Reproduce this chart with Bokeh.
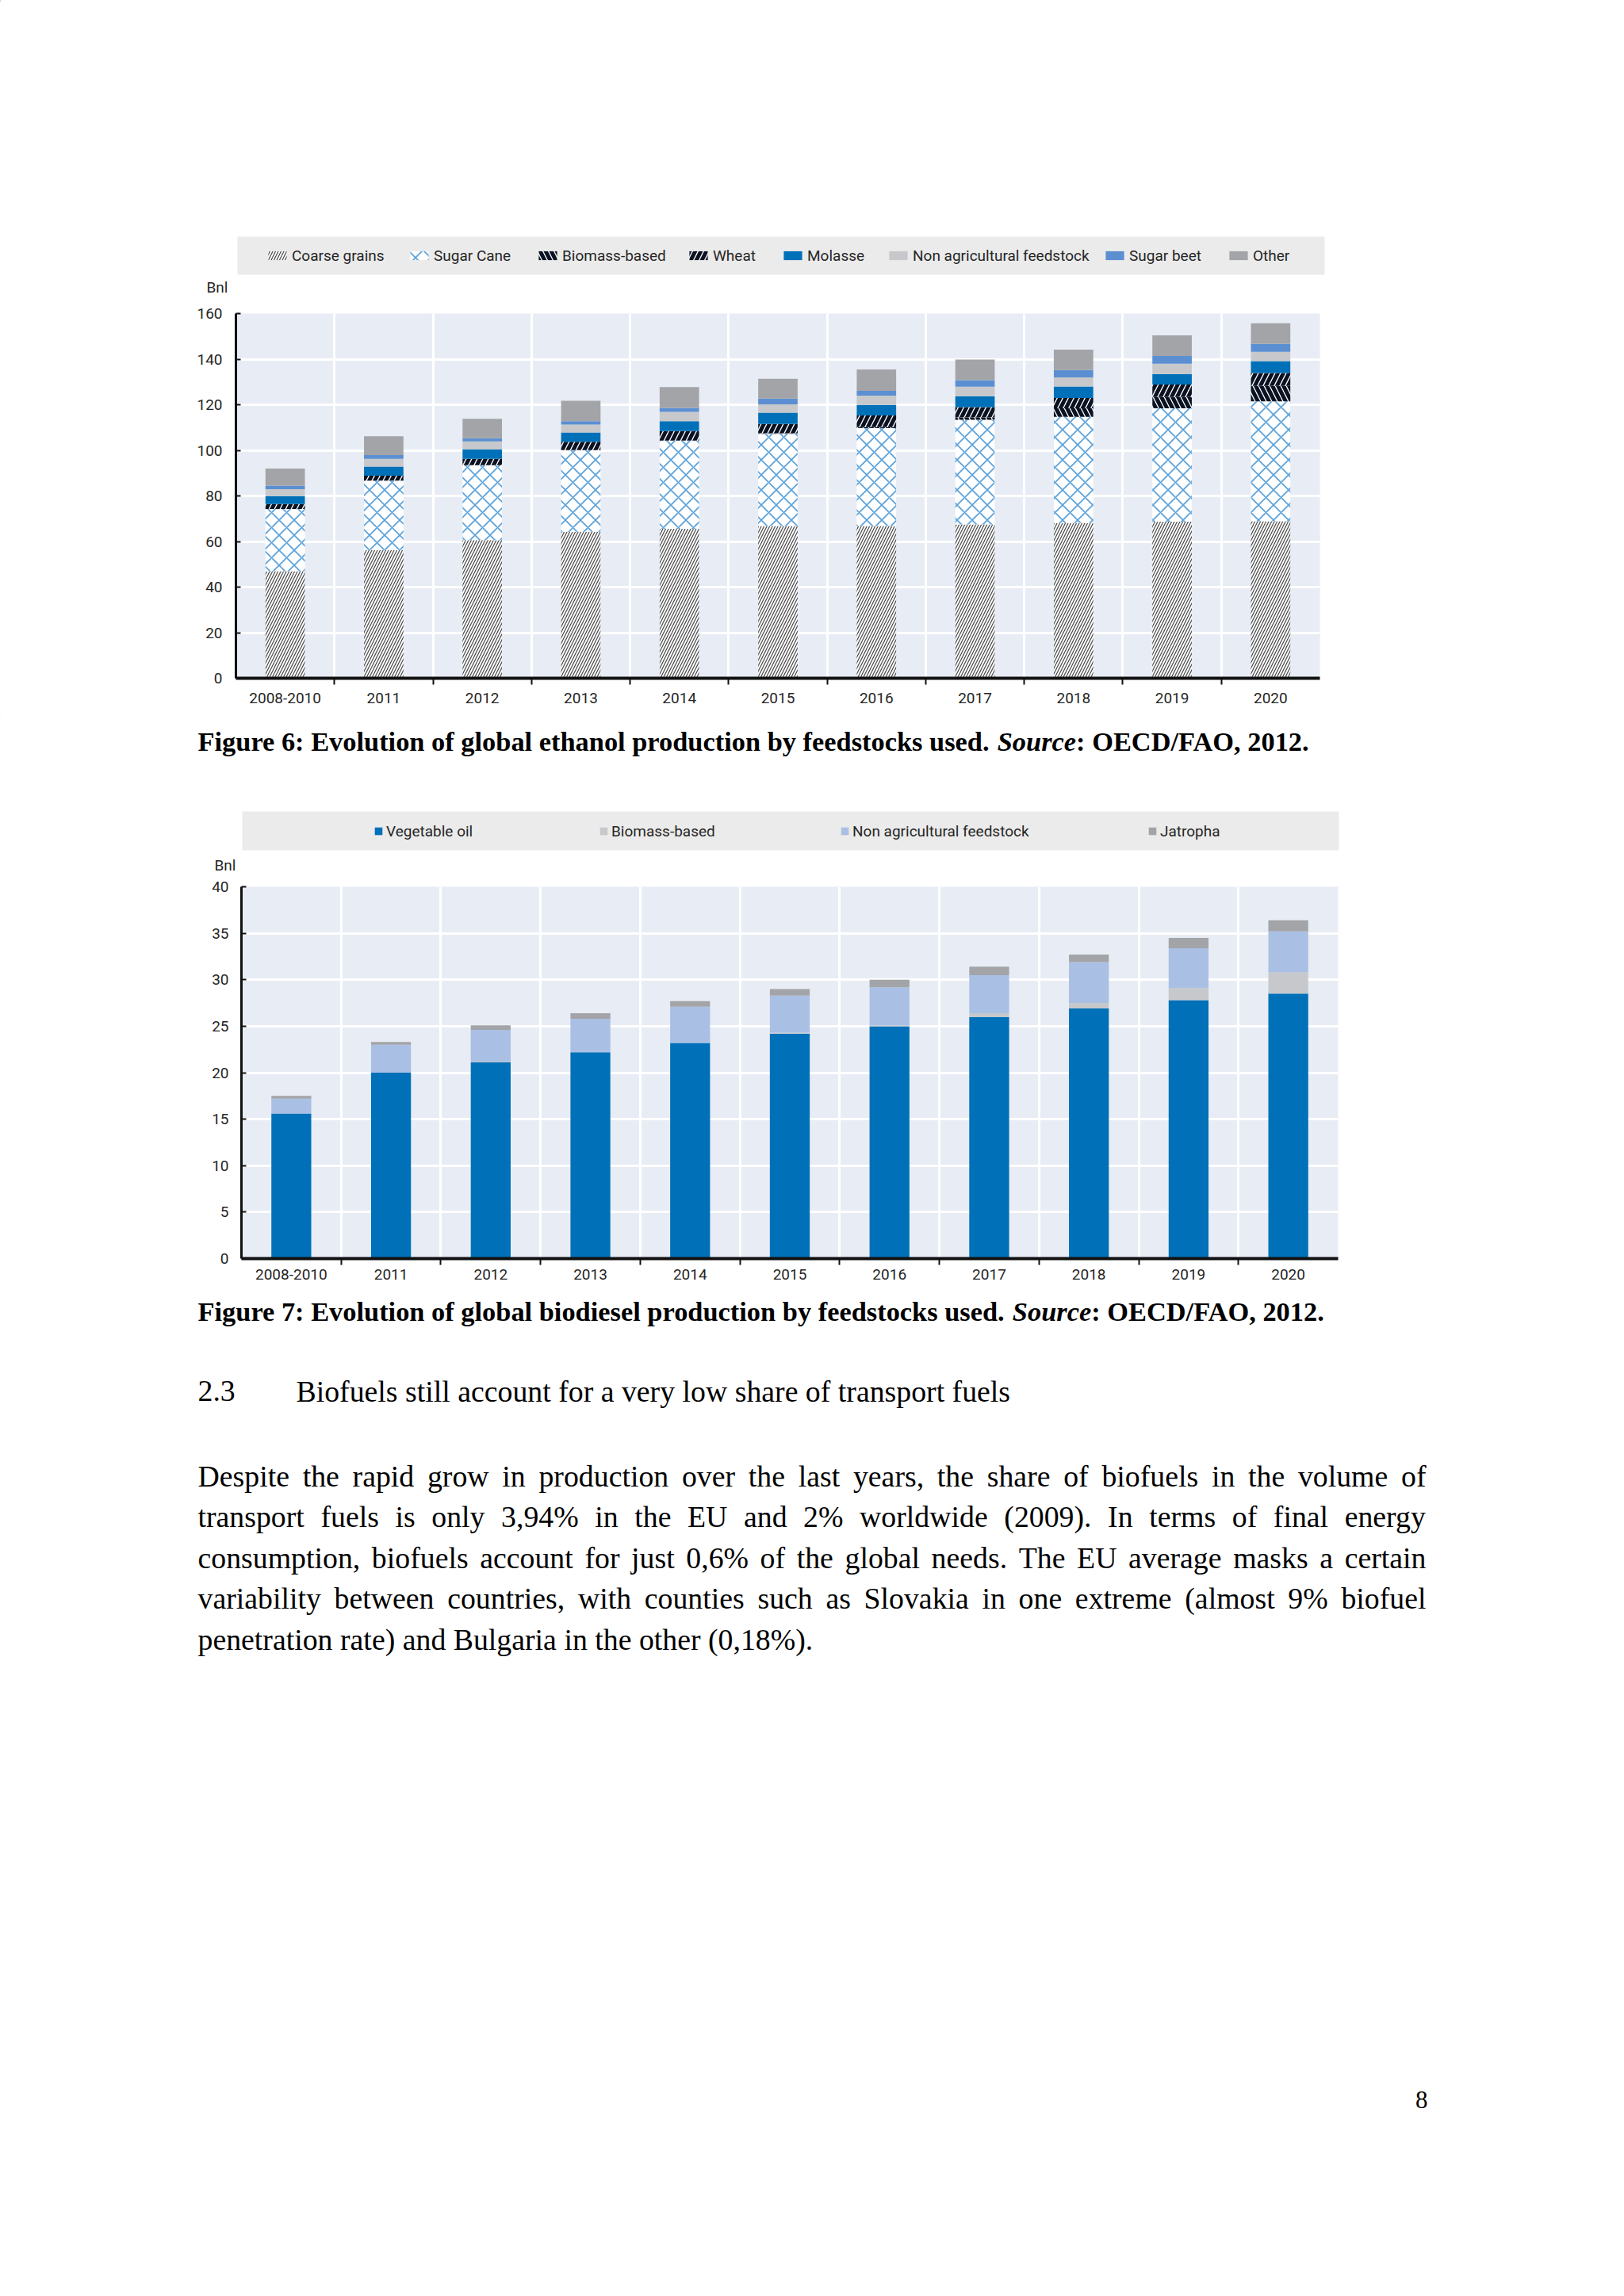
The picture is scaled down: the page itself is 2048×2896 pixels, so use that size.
from bokeh.plotting import figure
from bokeh.models import (ColumnDataSource, FixedTicker, Range1d, Legend, LegendItem,
                          BoxAnnotation)
from bokeh.layouts import column
from bokeh.embed import file_html
from bokeh.resources import INLINE
from bokeh.core.properties import value

# ---------------- data ----------------
years = ["2008-2010", "2011", "2012", "2013", "2014", "2015",
         "2016", "2017", "2018", "2019", "2020"]

# Figure 6: ethanol production (Bnl) by feedstock
eth_names = ["Coarse grains", "Sugar Cane", "Biomass-based", "Wheat", "Molasse",
             "Non agricultural feedstock", "Sugar beet", "Other"]
coarse_grains = [47.0, 56.3, 60.6, 64.3, 65.6, 66.8, 66.8, 67.5, 68.1, 68.7, 68.9]
sugar_cane    = [27.3, 30.4, 32.9, 35.8, 38.7, 40.4, 42.9, 45.9, 46.6, 49.7, 52.6]
biomass_eth   = [0.0, 0.0, 0.0, 0.0, 0.0, 0.3, 0.5, 1.1, 3.7, 5.0, 6.8]
wheat         = [2.1, 2.2, 2.8, 3.6, 4.1, 4.1, 5.1, 4.5, 4.6, 5.5, 5.6]
molasse       = [3.5, 4.0, 4.1, 4.1, 4.4, 4.9, 4.6, 4.7, 5.0, 4.6, 5.2]
non_agri_eth  = [3.1, 3.4, 3.5, 3.5, 4.1, 3.7, 4.1, 4.2, 4.0, 4.5, 4.1]
sugar_beet    = [1.5, 1.6, 1.4, 1.5, 1.7, 2.5, 2.1, 2.9, 3.2, 3.4, 3.5]
other_eth     = [7.5, 8.3, 8.5, 8.9, 9.1, 8.7, 9.4, 9.0, 9.0, 9.0, 9.0]
eth_ticks = [0, 20, 40, 60, 80, 100, 120, 140, 160]

# Figure 7: biodiesel production (Bnl) by feedstock
bio_names = ["Vegetable oil", "Biomass-based", "Non agricultural feedstock", "Jatropha"]
vegetable_oil = [15.6, 20.0, 21.1, 22.2, 23.2, 24.2, 25.0, 26.0, 26.9, 27.8, 28.5]
biomass_bio   = [0.0, 0.0, 0.1, 0.0, 0.0, 0.1, 0.1, 0.4, 0.6, 1.3, 2.3]
non_agri_bio  = [1.6, 3.0, 3.4, 3.6, 3.9, 4.0, 4.1, 4.1, 4.4, 4.3, 4.4]
jatropha      = [0.3, 0.3, 0.5, 0.6, 0.6, 0.7, 0.8, 0.9, 0.8, 1.1, 1.2]
bio_ticks = [0, 5, 10, 15, 20, 25, 30, 35, 40]

unit_label = "Bnl"
caption6 = ["Figure 6: Evolution of global ethanol production by feedstocks used. ", "Source", ": OECD/FAO, 2012."]
caption7 = ["Figure 7: Evolution of global biodiesel production by feedstocks used. ", "Source", ": OECD/FAO, 2012."]
heading_num = "2.3"
heading_text = "Biofuels still account for a very low share of transport fuels"
para_lines = [
    "Despite the rapid grow in production over the last years, the share of biofuels in the volume of",
    "transport fuels is only 3,94% in the EU and 2% worldwide (2009). In terms of final energy",
    "consumption, biofuels account for just 0,6% of the global needs. The EU average masks a certain",
    "variability between countries, with counties such as Slovakia in one extreme (almost 9% biofuel",
    "penetration rate) and Bulgaria in the other (0,18%).",
]
page_number = "8"

# ---------------- styles ----------------
W = 2048
SANS = "Roboto"
SANS_SIZE = "19px"
SERIF = "Liberation Serif"
PLOT_BG = "#e8ecf5"
LEG_BG = "#ebebeb"
TICK_COLOR = "#262626"

eth_style = dict(
    fill_color=["white", "white", "white", "white", "#0070b8", "#c6c8cb", "#5b8fd2", "#a3a4a7"],
    hatch_pattern=["/", "x", "\\", "/", " ", " ", " ", " "],
    hatch_color=["#474747", "#5ea3da", "#0b1222", "#0b1222", "white", "white", "white", "white"],
    hatch_scale=[7, 19, 14, 14, 12, 12, 12, 12],
    hatch_weight=[1.2, 1.8, 5, 5, 1, 1, 1, 1],
)
bio_style = dict(fill_color=["#0070b8", "#c6c8cb", "#a9bfe4", "#a3a4a7"])

TIMES_R = {' ': 250, '!': 333, '%': 833, '(': 333, ')': 333, ',': 250, '-': 333, '.': 250,
           '/': 278, ':': 278, ';': 278,
           'A': 722, 'B': 667, 'C': 667, 'D': 722, 'E': 611, 'F': 556, 'G': 722, 'H': 722,
           'I': 333, 'J': 389, 'K': 722, 'L': 611, 'M': 889, 'N': 722, 'O': 722, 'P': 556,
           'Q': 722, 'R': 667, 'S': 556, 'T': 611, 'U': 722, 'V': 722, 'W': 944, 'X': 722,
           'Y': 722, 'Z': 611,
           'a': 444, 'b': 500, 'c': 444, 'd': 500, 'e': 444, 'f': 333, 'g': 500, 'h': 500,
           'i': 278, 'j': 278, 'k': 500, 'l': 278, 'm': 778, 'n': 500, 'o': 500, 'p': 500,
           'q': 500, 'r': 333, 's': 389, 't': 278, 'u': 500, 'v': 500, 'w': 722, 'x': 500,
           'y': 500, 'z': 444}
TIMES_B = {' ': 250, ',': 250, '.': 250, '/': 278, ':': 333,
           'A': 722, 'C': 722, 'D': 722, 'E': 667, 'F': 611, 'O': 778, 'S': 556,
           'a': 500, 'b': 556, 'c': 444, 'd': 556, 'e': 444, 'f': 333, 'g': 500, 'h': 556,
           'i': 278, 'k': 556, 'l': 278, 'n': 556, 'o': 500, 'p': 556, 'r': 444, 's': 389,
           't': 333, 'u': 556, 'v': 500, 'y': 500}
TIMES_BI = {'S': 556, 'o': 500, 'u': 556, 'r': 389, 'c': 444, 'e': 444}


def tw(s, table, size):
    return sum(table.get(c, 500) for c in s) * size / 1000.0


def no_align(p):
    if "frame_align" in p.properties():
        p.frame_align = False


def make_chart(page_top, page_bot, fl, fr, ft, fb, ymax, yticks, xstand, ystand):
    """fl/fr/ft/fb: frame edges in page pixels."""
    height = page_bot - page_top
    p = figure(width=W, height=height, x_range=Range1d(-0.5, len(years) - 0.5),
               y_range=Range1d(0, ymax), output_backend="svg", toolbar_location=None,
               min_border_left=fl, min_border_right=W - fr,
               min_border_top=ft - page_top, min_border_bottom=page_bot - fb)
    no_align(p)
    p.outline_line_color = None
    p.background_fill_color = PLOT_BG
    p.border_fill_color = "white"
    centers = list(range(len(years)))
    bounds = [i + 0.5 for i in range(len(years) - 1)]
    p.xaxis.ticker = FixedTicker(ticks=centers, minor_ticks=bounds)
    p.xaxis.major_label_overrides = {i: y for i, y in enumerate(years)}
    p.xaxis.major_tick_in = 0
    p.xaxis.major_tick_out = 0
    p.xaxis.minor_tick_in = 0
    p.xaxis.minor_tick_out = 8
    p.xaxis.minor_tick_line_width = 2
    p.xaxis.minor_tick_line_color = "#111111"
    p.xaxis.axis_line_width = 4
    p.xaxis.axis_line_color = "#111111"
    p.xaxis.major_label_standoff = xstand
    p.yaxis.ticker = FixedTicker(ticks=yticks)
    p.yaxis.major_tick_in = 6
    p.yaxis.major_tick_out = 0
    p.yaxis.minor_tick_line_color = None
    p.yaxis.major_tick_line_width = 2
    p.yaxis.major_tick_line_color = "#111111"
    p.yaxis.axis_line_width = 3
    p.yaxis.axis_line_color = "#111111"
    p.yaxis.major_label_standoff = ystand
    for ax in (p.xaxis, p.yaxis):
        ax.major_label_text_font = SANS
        ax.major_label_text_font_size = SANS_SIZE
        ax.major_label_text_color = TICK_COLOR
    p.xgrid.ticker = FixedTicker(ticks=bounds)
    p.xgrid.grid_line_color = "white"
    p.xgrid.grid_line_width = 3
    p.ygrid.grid_line_color = "white"
    p.ygrid.grid_line_width = 3
    return p


def text_fig(page_top, page_bot):
    """A blank band whose data coordinates are page pixels (y downward)."""
    p = figure(width=W, height=page_bot - page_top, x_range=Range1d(0, W),
               y_range=Range1d(page_bot, page_top), x_axis_type=None, y_axis_type=None,
               output_backend="svg", toolbar_location=None, min_border=0,
               min_border_left=0, min_border_right=0, min_border_top=0, min_border_bottom=0)
    no_align(p)
    p.outline_line_color = None
    p.background_fill_color = "white"
    p.border_fill_color = "white"
    p.grid.visible = False
    return p


def add_caption(p, parts, x, y):
    size = 34.4
    styles = ["bold", "bold italic", "bold"]
    tables = [TIMES_B, TIMES_BI, TIMES_B]
    cx = x
    for txt, st, tb in zip(parts, styles, tables):
        p.text(x=[cx], y=[y], text=[txt], text_font=value(SERIF),
               text_font_size=value(f"{size}px"), text_font_style=st,
               text_baseline="middle", text_align="left", text_color="black")
        cx += tw(txt, tb, size)


def add_legend_band(p, page_bot, names, style, xs, yc, box, gw, gh, standoff):
    l, r, t, b = box
    p.add_layout(BoxAnnotation(left=l, right=r, top=t, bottom=b, fill_color=LEG_BG,
                               fill_alpha=1.0, line_alpha=0.0, level="underlay"))
    for i, (name, xp) in enumerate(zip(names, xs)):
        kw = {k: v[i] for k, v in style.items()}
        # legend key renderer: one bar placed outside the visible band (only its swatch shows)
        rend = p.vbar(x=[-1000], top=[1], width=0.4, line_color=None, **kw)
        lg = Legend(items=[LegendItem(label=name, renderers=[rend])],
                    location=(xp, page_bot - (yc + 12)), orientation="horizontal",
                    padding=0, margin=0, spacing=0, glyph_width=gw, glyph_height=gh,
                    label_standoff=standoff, background_fill_alpha=0.0,
                    border_line_alpha=0.0, label_text_font=SANS,
                    label_text_font_size=SANS_SIZE, label_text_color=TICK_COLOR,
                    label_height=24)
        p.add_layout(lg)


def add_unit(p, x, y):
    p.text(x=[x], y=[y], text=[unit_label], text_font=value(SANS),
           text_font_size=value(SANS_SIZE), text_color=TICK_COLOR,
           text_baseline="middle", text_align="left")


# ---------------- band A: legend of Figure 6 ----------------
A0, A1 = 0, 380
pa = text_fig(A0, A1)
add_legend_band(pa, A1, eth_names, eth_style,
                [335, 514, 676, 866, 985, 1118, 1391, 1547], 322,
                (299, 1670, 298, 346), 29, 14, 4)
add_unit(pa, 260, 362)

# ---------------- Figure 6 chart ----------------
B0, B1 = 380, 905
p1 = make_chart(B0, B1, 297, 1664, 395, 855, 160, eth_ticks, 10, 17)
src1 = ColumnDataSource(dict(x=list(range(len(years))), cg=coarse_grains, sc=sugar_cane,
                             bb=biomass_eth, wh=wheat, mo=molasse, na=non_agri_eth,
                             sb=sugar_beet, ot=other_eth))
p1.vbar_stack(["cg", "sc", "bb", "wh", "mo", "na", "sb", "ot"], x="x", width=0.4,
              source=src1, line_color=None, **eth_style)

# ---------------- band C: caption 6 + legend of Figure 7 ----------------
C0, C1 = 905, 1105
pc = text_fig(C0, C1)
add_caption(pc, caption6, 249, 934)
add_legend_band(pc, C1, bio_names, bio_style, [471, 755, 1059, 1447], 1048,
                (305, 1688, 1023, 1072), 12, 12, 4)
add_unit(pc, 270, 1091)

# ---------------- Figure 7 chart ----------------
D0, D1 = 1105, 1628
p2 = make_chart(D0, D1, 304, 1687, 1118, 1587, 40, bio_ticks, 5, 16)
src2 = ColumnDataSource(dict(x=list(range(len(years))), vo=vegetable_oil, bb=biomass_bio,
                             na=non_agri_bio, ja=jatropha))
p2.vbar_stack(["vo", "bb", "na", "ja"], x="x", width=0.4, source=src2, line_color=None,
              **bio_style)

# ---------------- band E: caption 7, heading, paragraph, page number ----------------
E0, E1 = 1628, 2896
pe = text_fig(E0, E1)
add_caption(pe, caption7, 249, 1653)

BODY = 37.8
LEFT, RIGHT = 249, 1798
line_y0, line_dy = 1861, 51.5
wx, wy, wt = [], [], []
for li, line in enumerate(para_lines):
    words = line.split(" ")
    widths = [tw(w_, TIMES_R, BODY) for w_ in words]
    if li < len(para_lines) - 1:
        gap = (RIGHT - LEFT - sum(widths)) / (len(words) - 1)
    else:
        gap = 0.25 * BODY
    cx = LEFT
    for w_, ww in zip(words, widths):
        wx.append(cx)
        wy.append(line_y0 + li * line_dy)
        wt.append(w_)
        cx += ww + gap
wx += [249, 373]
wy += [1754, 1754]
wt += [heading_num, heading_text]
pe.text(x=wx, y=wy, text=wt, text_font=value(SERIF), text_font_size=value(f"{BODY}px"),
        text_baseline="middle", text_align="left", text_color="black")
pe.text(x=[1800], y=[2648], text=[page_number], text_font=value(SERIF),
        text_font_size=value("31px"), text_baseline="middle", text_align="right",
        text_color="black")

layout = column(pa, p1, pc, p2, pe, spacing=0)
open("out.html", "w").write(file_html(layout, INLINE))
